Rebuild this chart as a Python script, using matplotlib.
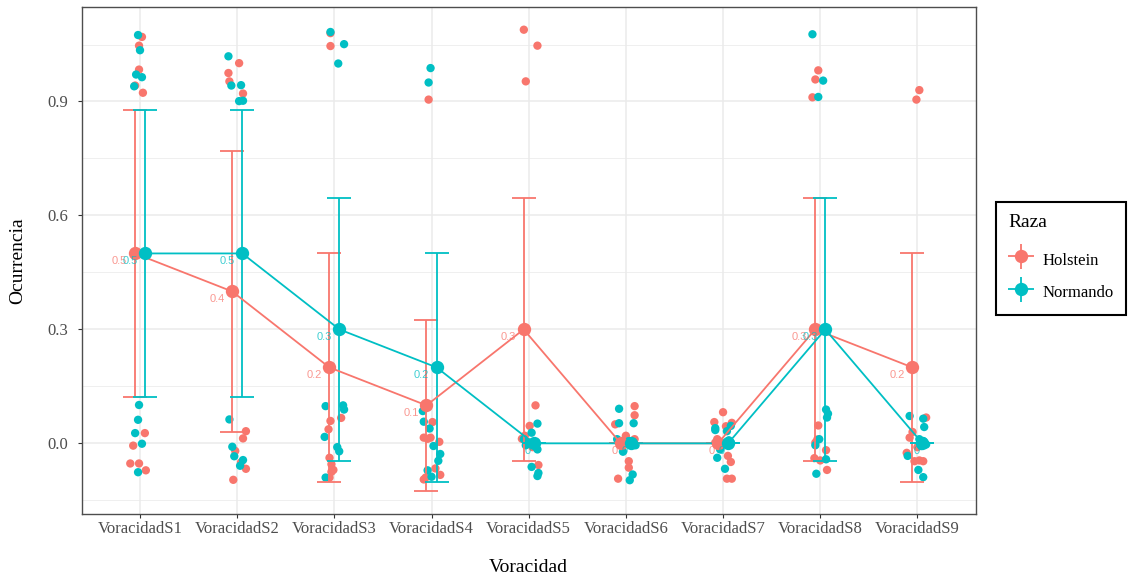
import matplotlib
matplotlib.use("Agg")
import matplotlib.pyplot as plt
from matplotlib.lines import Line2D
from matplotlib.transforms import offset_copy

plt.rcParams['font.family'] = 'serif'
plt.rcParams['font.serif'] = ['Liberation Serif', 'DejaVu Serif']

categorias = ['VoracidadS1', 'VoracidadS2', 'VoracidadS3', 'VoracidadS4', 'VoracidadS5',
              'VoracidadS6', 'VoracidadS7', 'VoracidadS8', 'VoracidadS9']

# medias por raza y limites del intervalo de confianza
hol_media = [0.5, 0.4, 0.2, 0.1, 0.3, 0.0, 0.0, 0.3, 0.2]
hol_inf = [0.123, 0.031, -0.102, -0.126, -0.046, 0.0, 0.0, -0.046, -0.102]
hol_sup = [0.877, 0.769, 0.502, 0.326, 0.646, 0.0, 0.0, 0.646, 0.502]
nor_media = [0.5, 0.5, 0.3, 0.2, 0.0, 0.0, 0.0, 0.3, 0.0]
nor_inf = [0.123, 0.123, -0.046, -0.102, 0.0, 0.0, 0.0, -0.046, 0.0]
nor_sup = [0.877, 0.877, 0.646, 0.502, 0.0, 0.0, 0.0, 0.646, 0.0]

# observaciones con jitter (valor y desplazamiento horizontal)
hol_obs = [
    [1.070, 1.047, 0.984, 0.942, 0.923, 0.027, -0.006, -0.053, -0.053, -0.071],
    [1.001, 0.975, 0.953, 0.921, 0.032, 0.013, -0.067, -0.096, -0.050, -0.020],
    [1.046, 1.080, 0.067, 0.059, 0.037, -0.038, -0.055, -0.070, -0.090, -0.075],
    [0.905, 0.056, 0.015, 0.015, 0.004, -0.066, -0.083, -0.095, 0.012, -0.090],
    [1.089, 1.047, 0.953, 0.100, 0.046, 0.012, -0.057, 0.005, -0.010, 0.020],
    [0.098, 0.074, 0.050, 0.006, -0.003, 0.011, -0.047, -0.064, -0.093, 0.020],
    [0.082, 0.056, 0.054, 0.011, 0.002, -0.033, -0.049, -0.093, -0.093, 0.045],
    [0.982, 0.958, 0.911, 0.047, 0.002, -0.018, -0.039, -0.070, 0.010, -0.045],
    [0.930, 0.905, 0.068, 0.015, -0.025, -0.047, -0.047, 0.030, -0.010, -0.045],
]
hol_dx = [
    [0.02, -0.01, -0.01, -0.05, 0.03, 0.05, -0.07, -0.10, -0.01, 0.06],
    [0.02, -0.09, -0.08, 0.06, 0.09, 0.06, 0.09, -0.04, 0.04, -0.02],
    [-0.04, -0.04, 0.07, -0.04, -0.06, -0.05, -0.03, -0.01, -0.05, -0.03],
    [-0.03, 0.01, -0.08, -0.01, 0.08, 0.04, 0.09, -0.08, -0.04, -0.06],
    [-0.05, 0.09, -0.03, 0.07, 0.01, -0.07, 0.10, -0.02, 0.04, -0.04],
    [0.09, 0.09, -0.11, -0.06, -0.04, 0.09, 0.03, 0.03, -0.08, 0.00],
    [0.00, -0.09, 0.09, -0.06, -0.08, 0.05, 0.08, 0.04, 0.09, 0.03],
    [-0.02, -0.05, -0.08, -0.02, -0.05, 0.06, -0.06, 0.07, -0.03, 0.00],
    [0.02, -0.01, 0.09, -0.08, -0.11, -0.03, 0.06, -0.05, 0.00, 0.02],
]
nor_obs = [
    [1.075, 1.035, 0.971, 0.964, 0.940, 0.101, 0.062, 0.027, -0.001, -0.076],
    [1.019, 0.942, 0.943, 0.901, 0.902, 0.063, -0.009, -0.034, -0.044, -0.059],
    [1.083, 1.051, 1.000, 0.100, 0.089, 0.098, 0.017, -0.010, -0.021, -0.090],
    [0.988, 0.950, 0.085, 0.057, 0.039, -0.007, -0.028, -0.046, -0.071, -0.088],
    [0.052, 0.028, 0.011, 0.002, 0.002, -0.016, -0.062, -0.086, -0.078, -0.005],
    [0.091, 0.053, 0.053, 0.011, 0.006, 0.002, -0.005, -0.022, -0.082, -0.097],
    [0.046, 0.035, 0.032, 0.004, 0.002, -0.016, -0.038, -0.067, 0.040, 0.008],
    [1.077, 0.955, 0.912, 0.089, 0.078, 0.068, 0.011, -0.005, -0.042, -0.080],
    [0.072, 0.065, 0.043, 0.011, 0.006, -0.003, -0.007, -0.033, -0.070, -0.089],
]
nor_dx = [
    [-0.02, 0.00, -0.04, 0.02, -0.06, -0.01, -0.02, -0.05, 0.02, -0.02],
    [-0.09, -0.06, 0.04, 0.02, 0.06, -0.08, -0.05, -0.03, 0.06, 0.03],
    [-0.04, 0.10, 0.04, 0.09, 0.10, -0.09, -0.10, 0.03, 0.05, -0.09],
    [-0.01, -0.03, -0.09, -0.08, -0.02, 0.02, 0.09, 0.07, -0.04, 0.00],
    [0.09, 0.03, -0.05, 0.00, 0.06, 0.09, 0.03, 0.09, 0.10, -0.03],
    [-0.07, -0.07, 0.08, -0.09, 0.03, 0.07, 0.10, -0.03, 0.07, 0.04],
    [0.08, -0.08, 0.04, 0.06, 0.08, -0.03, -0.06, 0.02, -0.08, 0.06],
    [-0.08, 0.03, -0.02, 0.06, 0.08, 0.07, -0.01, -0.05, 0.06, -0.04],
    [-0.08, 0.06, 0.07, 0.02, 0.06, 0.09, 0.04, -0.10, 0.01, 0.06],
]

ROJO = '#F8766D'
CIAN = '#00BFC4'
W, H = 1131, 581

fig = plt.figure(figsize=(W / 100, H / 100), dpi=100)
x0, x1, y0, y1 = 81.7, 975.7, 7.3, 514.0
ax = fig.add_axes([x0 / W, 1 - y1 / H, (x1 - x0) / W, (y1 - y0) / H])

pos = list(range(1, len(categorias) + 1))
grupos = [
    ('Holstein', ROJO, -0.052, hol_media, hol_inf, hol_sup, hol_obs, hol_dx),
    ('Normando', CIAN, 0.052, nor_media, nor_inf, nor_sup, nor_obs, nor_dx),
]

# puntos individuales
for nombre, col, dodge, media, inf, sup, obs, dx in grupos:
    xs, ys = [], []
    for i, p in enumerate(pos):
        xs += [p + d for d in dx[i]]
        ys += obs[i]
    ax.scatter(xs, ys, s=36, color=col, edgecolors='none', zorder=3)

# barras de error, lineas y medias
etiquetas = []
for nombre, col, dodge, media, inf, sup, obs, dx in grupos:
    xd = [p + dodge for p in pos]
    err = [[m - lo for m, lo in zip(media, inf)], [hi - m for m, hi in zip(media, sup)]]
    ax.errorbar(xd, media, yerr=err, fmt='none', ecolor=col, elinewidth=1.3,
                capsize=8.65, capthick=1.3, zorder=4)
    ax.plot(xd, media, color=col, lw=1.3, zorder=5)
    ax.plot(xd, media, 'o', color=col, ms=9.6, mec='none', zorder=6)
    for xv, m in zip(xd, media):
        t = ax.text(xv, m, f'{m:g}', color=col, alpha=0.75, fontsize=8,
                    family='Liberation Sans', ha='center', va='center', zorder=7)
        etiquetas.append(t)

ax.set_xlim(0.4, 9.6)
ax.set_ylim(-0.186, 1.148)
ax.set_xticks(pos)
ax.set_xticklabels(categorias)
ax.set_yticks([0.0, 0.3, 0.6, 0.9])
ax.set_yticklabels(['0.0', '0.3', '0.6', '0.9'])
ax.set_yticks([-0.15, 0.15, 0.45, 0.75, 1.05], minor=True)
ax.tick_params(axis='both', which='major', length=2.75, width=0.8, color='#333333',
               labelcolor='#4D4D4D', labelsize=12, pad=2.2)
ax.tick_params(axis='y', which='major', pad=7)
ax.tick_params(axis='y', which='minor', length=0)
ax.grid(True, which='major', color='#EBEBEB', lw=1.1, zorder=0)
ax.grid(True, which='minor', axis='y', color='#EBEBEB', lw=0.55, zorder=0)
ax.set_axisbelow(True)
for sp in ax.spines.values():
    sp.set_color('#4D4D4D')
    sp.set_linewidth(1.0)

fig.text(18 / W, 1 - 260.7 / H, 'Ocurrencia', rotation=90, ha='center', va='center', fontsize=14)
fig.text((x0 + x1) / 2 / W, 1 - 568 / H, 'Voracidad', ha='center', va='center', fontsize=14)

# leyenda con punto y cruz de error
def clave(col):
    return (Line2D([], [], marker='_', ms=19, mew=1.3, color=col, ls='none'),
            Line2D([], [], marker='|', ms=18, mew=1.3, color=col, ls='none'),
            Line2D([], [], marker='o', ms=9.6, mec='none', color=col, ls='none'))

leg = ax.legend([clave(ROJO), clave(CIAN)], ['Holstein', 'Normando'], title='Raza',
                loc='upper left', bbox_to_anchor=(996 / W, 1 - 201.7 / H),
                bbox_transform=fig.transFigure, fontsize=12, title_fontsize=14,
                frameon=True, fancybox=False, edgecolor='black', framealpha=1,
                borderpad=0.75, handlelength=1.5, handleheight=1.7,
                handletextpad=0.55, labelspacing=0.6, alignment='left',
                borderaxespad=0)
leg.get_frame().set_linewidth(1.5)
leg._legend_box.sep = 12

# etiquetas de media desplazadas a la izquierda y abajo del punto
fig.canvas.draw()
r = fig.canvas.get_renderer()
for t in etiquetas:
    w = t.get_window_extent(r).width
    t.set_transform(offset_copy(ax.transData, fig=fig, x=-w, y=-8.0, units='dots'))

fig.savefig('out.png', dpi=100)
